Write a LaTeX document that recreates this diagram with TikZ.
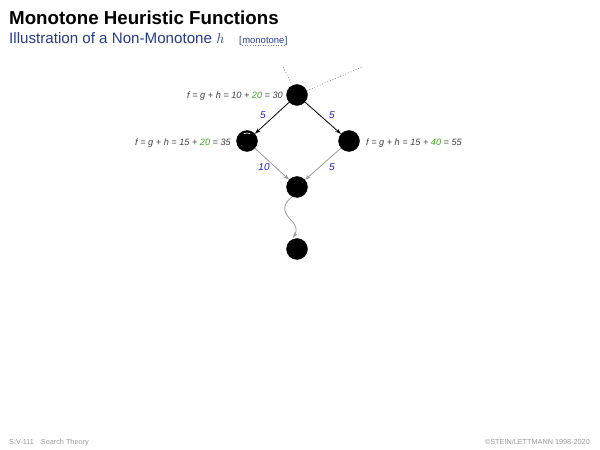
\documentclass[tikz,border=0pt]{standalone}
\usepackage{fontspec}
\setmainfont{Liberation Sans}
\usetikzlibrary{arrows.meta}
\definecolor{titleblue}{RGB}{40,60,140}
\definecolor{lblue}{RGB}{30,30,230}
\definecolor{lgreen}{RGB}{60,170,30}
\begin{document}
\begin{tikzpicture}[x=1bp,y=-1bp,
  dot/.style={circle,fill=black,draw=black,minimum size=21bp,inner sep=0pt},
  flab/.style={font=\itshape\fontsize{9.2}{10}\selectfont,text=black!75,inner sep=0pt},
  wlab/.style={font=\itshape\fontsize{10}{11}\selectfont,text=lblue,inner sep=0pt},
  blackarr/.style={-{Stealth[length=6bp,width=4bp]},line width=0.8bp,black},
  grayarr/.style={-{Stealth[length=6bp,width=4bp]},line width=0.8bp,black!40},
  dotline/.style={dotted,line width=0.8bp,black!45},
  foot/.style={inner sep=0pt,font=\fontsize{7.3}{8}\selectfont,text=black!40}]
\useasboundingbox (0,0) rectangle (600,450);
\node[anchor=base west,inner sep=0pt,font=\bfseries\fontsize{18.8}{22}\selectfont] (title) at (9,25) {Monotone Heuristic Functions};
\node[anchor=base west,inner sep=0pt,font=\fontsize{15.2}{18}\selectfont,text=titleblue] (sub) at (9,44) {Illustration of a Non-Monotone $h$};
\node[anchor=base west,inner sep=0pt,font=\fontsize{9.5}{10}\selectfont,text=titleblue] (ref) at (239,44) {[\tikz[baseline=0pt]{\node[inner sep=0pt,anchor=base] (m) {monotone};\draw[dotted,titleblue!70,line width=0.6bp] ([yshift=-1.5bp]m.base west) -- ([yshift=-1.5bp]m.base east);}]};
\node[dot] (n1) at (297,95) {};
\node[dot] (n2) at (247,141) {};
\node[dot] (n3) at (349,141) {};
\node[dot] (n4) at (297,187) {};
\node[dot] (n5) at (297,249) {};
\draw[white,line width=0.6bp] ([shift={(65:8bp)}]n2.center) arc[start angle=65,end angle=115,radius=8bp];
\coordinate (d1) at (283,67);
\coordinate (d2) at (362,67);
\draw[dotline] (n1) -- (d1);
\draw[dotline] (n1) -- (d2);
\draw[blackarr] (n1) -- (n2);
\draw[blackarr] (n1) -- (n3);
\draw[grayarr] (n2) -- (n4);
\draw[grayarr] (n3) -- (n4);
\coordinate (s1) at (292,197);
\coordinate (s2) at (293,238);
\draw[grayarr] (s1) .. controls (280,206) and (285,214) .. (291,220) .. controls (297,226) and (297,231) .. (s2);
\node[flab,anchor=east] (f1) at (283,96) {f = g + h = 10 + \textcolor{lgreen}{20} = 30};
\node[flab,anchor=east] (f2) at (231,143) {f = g + h = 15 + \textcolor{lgreen}{20} = 35};
\node[flab,anchor=west] (f3) at (366,143) {f = g + h = 15 + \textcolor{lgreen}{40} = 55};
\node[wlab] (w1) at (263,115) {5};
\node[wlab] (w2) at (332,115) {5};
\node[wlab] (w3) at (264,167) {10};
\node[wlab] (w4) at (332,167) {5};
\node[foot,anchor=base west] (foot1) at (9,444) {S:V-111\hspace{7bp}Search Theory};
\node[foot,anchor=base east] (foot2) at (590,444) {©STEIN/LETTMANN 1998-2020};
\end{tikzpicture}
\end{document}
